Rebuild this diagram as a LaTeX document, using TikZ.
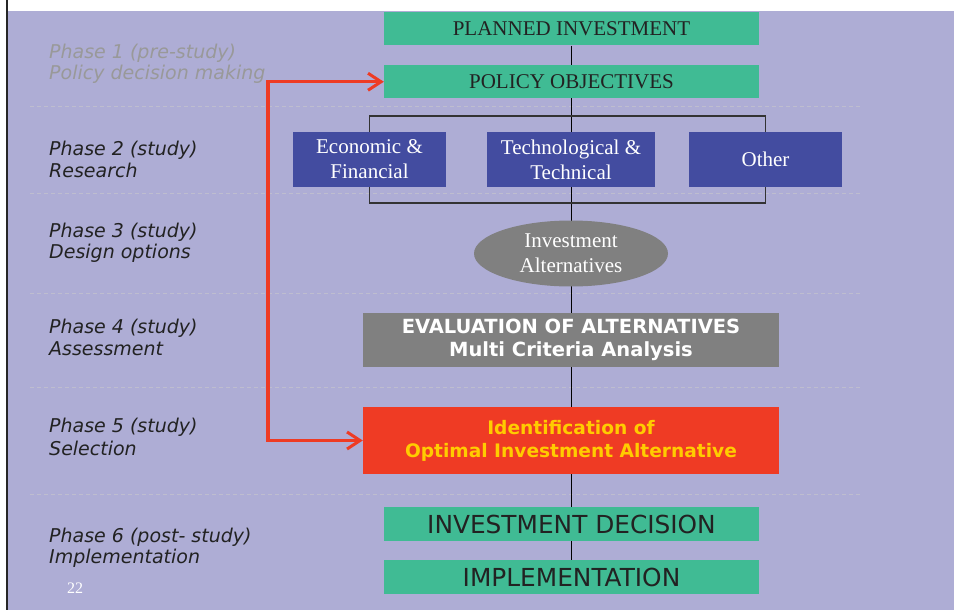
\documentclass[tikz,border=0pt]{standalone}
\usepackage{fontspec}
\setmainfont{Liberation Serif}
\setsansfont{DejaVu Sans}
\usetikzlibrary{arrows.meta,shapes.geometric}
\pgfdeclarelayer{bg}
\pgfdeclarelayer{background}
\pgfsetlayers{bg,background,main}

\definecolor{slide}{HTML}{AEADD5}
\definecolor{boxgreen}{HTML}{40BB94}
\definecolor{boxblue}{HTML}{434CA0}
\definecolor{boxgrey}{HTML}{808080}
\definecolor{boxred}{HTML}{EF3B24}
\definecolor{textyellow}{HTML}{FFCC00}
\definecolor{darktext}{HTML}{222222}
\definecolor{fadedtext}{HTML}{999999}
\definecolor{sepline}{HTML}{BEBDCF}
\definecolor{railred}{HTML}{EE3B24}

\tikzset{
  box/.style={rectangle, inner sep=0pt, align=center},
  greenbox/.style={box, fill=boxgreen, text=darktext, minimum width=375pt, minimum height=33.5pt,
    font=\fontsize{21}{25}\selectfont},
  greensans/.style={box, fill=boxgreen, text=darktext, minimum width=375pt, minimum height=34pt,
    font=\sffamily\fontsize{24.8}{28}\selectfont},
  bluebox/.style={box, fill=boxblue, text=white, minimum height=55pt,
    font=\fontsize{21}{25}\selectfont},
  widebox/.style={box, minimum width=416pt},
  phase/.style={anchor=base west, inner sep=0pt, text=darktext,
    font=\sffamily\itshape\fontsize{19}{22}\selectfont},
  separator/.style={sepline, line width=0.7pt, dash pattern=on 4pt off 3pt},
  spine/.style={black, line width=1pt},
  bracket/.style={draw=black!80, line width=1.1pt},
  rail/.style={railred, line width=3.5pt, line join=miter,
    {Straight Barb[length=13pt,width=17pt,line width=3pt]}-{Straight Barb[length=13pt,width=17pt,line width=3pt]}}
}

\begin{document}
\begin{tikzpicture}[x=1pt,y=-1pt]
\useasboundingbox (0,0) rectangle (954,610);
\begin{pgfonlayer}{bg}
  \fill[white] (0,0) rectangle (954,610);
  \fill[slide] (7,11) rectangle (954,610);
  \draw[black!85, line width=2pt] (7,0) -- (7,610);
  \foreach \yy in {106,193,293,387,494}
    \draw[separator] (30,\yy) -- (862,\yy);
\end{pgfonlayer}

% main column
\node[greenbox] (plan) at (571.5,28.75) {PLANNED INVESTMENT};
\node[greenbox] (pol) at (571.5,81.75) {POLICY OBJECTIVES};
\node[bluebox, minimum width=153pt] (econ) at (369.5,159.5) {Economic \&\\Financial};
\node[bluebox, minimum width=168pt] (tech) at (571,159.5) {Technological \&\\Technical};
\node[bluebox, minimum width=153pt] (other) at (765.5,159.5) {Other};
\node[ellipse, fill=boxgrey, text=white, inner sep=0pt, align=center,
  minimum width=194pt, minimum height=66pt,
  font=\fontsize{21}{25}\selectfont] (alt) at (571,253.5) {Investment\\Alternatives};
\node[widebox, fill=boxgrey, text=white, minimum height=54pt,
  font=\sffamily\bfseries\fontsize{19.5}{23}\selectfont] (eval) at (571,340)
  {EVALUATION OF ALTERNATIVES\\Multi Criteria Analysis};
\node[widebox, fill=boxred, text=textyellow, minimum height=67pt,
  font=\sffamily\bfseries\fontsize{18.6}{23}\selectfont] (ident) at (571,440.5)
  {Identification of\\Optimal Investment Alternative};
\node[greensans] (dec) at (571.5,524) {INVESTMENT DECISION};
\node[greensans] (impl) at (571.5,577) {IMPLEMENTATION};

% phase labels
\node[phase, text=fadedtext] (p1a) at (49,59) {Phase 1 (pre-study)};
\node[phase, text=fadedtext] (p1b) at (49,80) {Policy decision making};
\node[phase] (p2a) at (49,155) {Phase 2 (study)};
\node[phase] (p2b) at (49,177) {Research};
\node[phase] (p3a) at (49,237) {Phase 3 (study)};
\node[phase] (p3b) at (49,258) {Design options};
\node[phase] (p4a) at (49,333) {Phase 4 (study)};
\node[phase] (p4b) at (49,355) {Assessment};
\node[phase] (p5a) at (49,432) {Phase 5 (study)};
\node[phase] (p5b) at (49,455) {Selection};
\node[phase] (p6a) at (49,542) {Phase 6 (post- study)};
\node[phase] (p6b) at (49,563) {Implementation};
\node[anchor=base, inner sep=0pt, text=white, font=\fontsize{16}{18}\selectfont] (pageno) at (75,593) {22};

% connectors
\coordinate (brtl) at (369.5,116);
\coordinate (brbr) at (765.5,203);
\coordinate (railtop) at (268,81.75);
\coordinate (railbot) at (268,440.5);
\begin{pgfonlayer}{background}
  \draw[spine] (plan.south) -- (impl.north);
  \draw[bracket] (brtl) rectangle (brbr);
\end{pgfonlayer}
\draw[rail] (pol.west) -- (railtop) -- (railbot) -- (ident.west);
\end{tikzpicture}
\end{document}
